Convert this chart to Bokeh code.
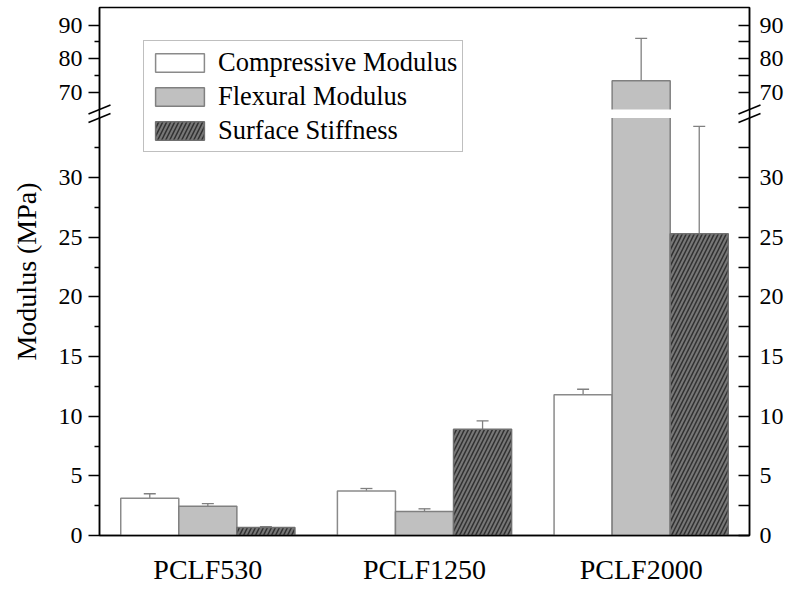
from bokeh.plotting import figure
from bokeh.models import (ColumnDataSource, FixedTicker, LinearAxis, Range1d,
                          Whisker, Legend, LegendItem, TeeHead)
from bokeh.embed import file_html
from bokeh.resources import INLINE

# ---------------- data ----------------
categories = ["PCLF530", "PCLF1250", "PCLF2000"]
series_names = ["Compressive Modulus", "Flexural Modulus", "Surface Stiffness"]
compressive = [3.13, 3.74, 11.79]
compressive_err = [0.37, 0.20, 0.47]
flexural = [2.46, 2.01, 73.47]
flexural_err = [0.22, 0.23, 12.6]
surface = [0.67, 8.91, 25.3]
surface_err = [0.08, 0.70, 9.0]

lower_ticks = [0, 5, 10, 15, 20, 25, 30]
upper_ticks = [70, 80, 90]
lower_minor = [2.5, 7.5, 12.5, 17.5, 22.5, 27.5, 32.5]
upper_minor = [75, 85]

# ---------------- broken axis mapping ----------------
LOW_TOP = 35.0
HIGH_BOTTOM = 65.0
GAP = 0.72
HIGH_SCALE = 0.283
Y_TOP = 95.2


def fold(v):
    if v <= LOW_TOP:
        return float(v)
    return LOW_TOP + GAP + (v - HIGH_BOTTOM) * HIGH_SCALE


FONT = "Liberation Serif"
W, H = 788, 589
FL, FR, FT, FB = 99, 39, 7, 54
frame_w = W - FL - FR
frame_h = H - FT - FB

y_top_v = fold(Y_TOP)
px_x = frame_w / len(categories)
px_y = frame_h / y_top_v

p = figure(width=W, height=H, output_backend="svg", toolbar_location=None,
           x_range=Range1d(0, len(categories)), y_range=Range1d(0, y_top_v),
           min_border_left=FL, min_border_right=FR, min_border_top=FT,
           min_border_bottom=FB)
p.xgrid.visible = False
p.ygrid.visible = False
p.outline_line_color = "black"
p.outline_line_width = 1.5
p.background_fill_color = "white"
p.border_fill_color = "white"

bw = 0.268
centers = [i + 0.5 for i in range(len(categories))]
offsets = [-bw, 0.0, bw]
series = [compressive, flexural, surface]
errors = [compressive_err, flexural_err, surface_err]
styles = [
    dict(fill_color="white", line_color="#8a8a8a"),
    dict(fill_color="#c0c0c0", line_color="#808080"),
    dict(fill_color="#777777", line_color="#707070", hatch_pattern="/",
         hatch_color="#303030", hatch_scale=8, hatch_weight=1.5),
]

renderers = []
for vals, errs, off, st in zip(series, errors, offsets, styles):
    xs = [c + off for c in centers]
    src = ColumnDataSource(dict(x=xs, top=[fold(v) for v in vals],
                                upper=[fold(v + e) for v, e in zip(vals, errs)]))
    r = p.vbar(x="x", top="top", bottom=0, width=bw, source=src,
               line_width=1.5, **st)
    renderers.append(r)
    wk = Whisker(base="x", lower="top", upper="upper", source=src,
                 dimension="height", line_color="#808080", line_width=1.3,
                 lower_head=None,
                 upper_head=TeeHead(size=12, line_color="#808080", line_width=1.3))
    p.add_layout(wk)

# white gap of the axis break
p.quad(left=0, right=len(categories), bottom=LOW_TOP, top=LOW_TOP + GAP,
       fill_color="white", line_color=None)

# break marks on both axes (drawn outside the frame)
dx = 11.0 / px_x
dy = 4.5 / px_y
bx0, bx1, by0, by1 = [], [], [], []
for xa in (0, len(categories)):
    for yb in (LOW_TOP, LOW_TOP + GAP):
        bx0.append(xa - dx); by0.append(yb - dy)
        bx1.append(xa + dx); by1.append(yb + dy)
p.segment(x0=bx0, y0=by0, x1=bx1, y1=by1, line_color="black",
          line_width=1.5, level="overlay")

# ---------------- axes ----------------
major_v = [fold(t) for t in lower_ticks + upper_ticks]
minor_v = [fold(t) for t in lower_minor + upper_minor]
overrides = {fold(t): str(t) for t in lower_ticks + upper_ticks}

yax = p.yaxis[0]
yax.ticker = FixedTicker(ticks=major_v, minor_ticks=minor_v)
yax.major_label_overrides = overrides
yax.axis_label = "Modulus (MPa)"
yax.axis_label_text_font = FONT
yax.axis_label_text_font_size = "28px"
yax.axis_label_text_font_style = "normal"
yax.axis_label_text_color = "black"
yax.axis_label_standoff = 14
yax.major_label_text_font = FONT
yax.major_label_text_font_size = "24px"
yax.major_label_text_color = "black"
yax.major_tick_out = 11
yax.major_tick_in = 0
yax.minor_tick_out = 5
yax.minor_tick_in = 0
yax.major_label_standoff = 6
yax.axis_line_width = 1.5
yax.major_tick_line_width = 1.5
yax.minor_tick_line_width = 1.5

rax = LinearAxis(ticker=FixedTicker(ticks=major_v, minor_ticks=minor_v),
                 major_label_overrides=overrides)
rax.major_label_text_font = FONT
rax.major_label_text_font_size = "24px"
rax.major_label_text_color = "black"
rax.major_tick_out = 0
rax.major_tick_in = 11
rax.minor_tick_out = 0
rax.minor_tick_in = 11
rax.major_label_standoff = 10
rax.axis_line_width = 1.5
rax.major_tick_line_width = 1.5
rax.minor_tick_line_width = 1.5
p.add_layout(rax, "right")

xax = p.xaxis[0]
xax.ticker = FixedTicker(ticks=centers, minor_ticks=[])
xax.major_label_overrides = {c: lab for c, lab in zip(centers, categories)}
xax.major_label_text_font = FONT
xax.major_label_text_font_size = "28px"
xax.major_label_text_color = "black"
xax.major_tick_out = 0
xax.major_tick_in = 0
xax.minor_tick_out = 0
xax.minor_tick_in = 0
xax.major_label_standoff = 18
xax.axis_line_width = 1.5

# ---------------- legend ----------------
legend = Legend(items=[LegendItem(label=n, renderers=[r])
                       for n, r in zip(series_names, renderers)],
                location=(44, 383))
legend.label_text_font = FONT
legend.label_text_font_size = "26.5px"
legend.label_text_color = "black"
legend.glyph_width = 61
legend.glyph_height = 23
legend.label_height = 32
legend.spacing = 2
legend.padding = 5
legend.margin = 0
legend.label_standoff = 8
legend.border_line_color = "#808080"
legend.border_line_width = 1.5
legend.background_fill_alpha = 1.0
p.add_layout(legend)

open("out.html", "w").write(file_html(p, INLINE))
